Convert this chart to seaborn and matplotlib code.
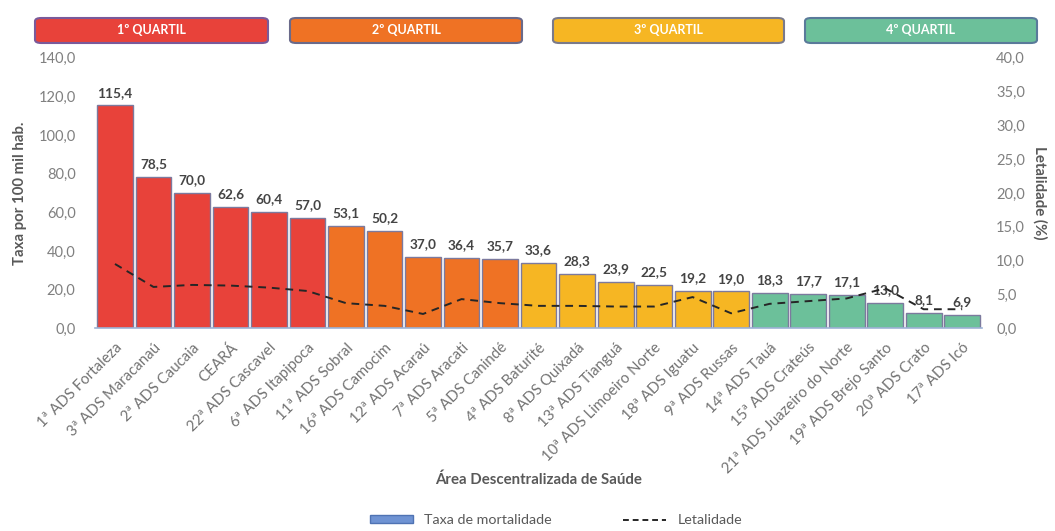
"""
Taxa de mortalidade e letalidade por Área Descentralizada de Saúde.
"""
import seaborn as sns
import pandas as pd
import numpy as np
import matplotlib.pyplot as plt
from matplotlib.patches import Patch, FancyBboxPatch
from matplotlib.lines import Line2D

areas = ["1ª ADS Fortaleza", "3ª ADS Maracanaú", "2ª ADS Caucaia", "CEARÁ",
         "22ª ADS Cascavel", "6ª ADS Itapipoca", "11ª ADS Sobral",
         "16ª ADS Camocim", "12ª ADS Acaraú", "7ª ADS Aracati",
         "5ª ADS Canindé", "4ª ADS Baturité", "8ª ADS Quixadá",
         "13ª ADS Tianguá", "10ª ADS Limoeiro Norte", "18ª ADS Iguatu",
         "9ª ADS Russas", "14ª ADS Tauá", "15ª ADS Crateús",
         "21ª ADS Juazeiro do Norte", "19ª ADS Brejo Santo", "20ª ADS Crato",
         "17ª ADS Icó"]
taxa = [115.4, 78.5, 70.0, 62.6, 60.4, 57.0, 53.1, 50.2, 37.0, 36.4, 35.7,
        33.6, 28.3, 23.9, 22.5, 19.2, 19.0, 18.3, 17.7, 17.1, 13.0, 8.1, 6.9]
letalidade = [9.5, 6.1, 6.4, 6.3, 6.0, 5.5, 3.7, 3.3, 2.1, 4.3, 3.7, 3.3,
              3.3, 3.2, 3.2, 4.6, 2.2, 3.6, 4.0, 4.4, 5.9, 2.8, 2.8]
quartil = ["1º QUARTIL"] * 6 + ["2º QUARTIL"] * 5 + ["3º QUARTIL"] * 6 + ["4º QUARTIL"] * 6
quartis = ["1º QUARTIL", "2º QUARTIL", "3º QUARTIL", "4º QUARTIL"]
cores = ["#E8423A", "#EF7224", "#F6B623", "#6CC09A"]
bordas = ["#7A5A9A", "#6A6A8A", "#7A7A8A", "#5A7A9A"]

df = pd.DataFrame({"area": areas, "taxa": taxa, "letal": letalidade, "quartil": quartil})

sns.set_theme(style="white")
plt.rcParams["font.family"] = ["Lato", "DejaVu Sans"]

fig = plt.figure(figsize=(10.55, 5.31), dpi=100)
ax = fig.add_axes([0.090, 0.382, 0.841, 0.509])

sns.barplot(data=df, x="area", y="taxa", hue="quartil", hue_order=quartis,
            palette=cores, dodge=False, legend=False, width=0.93,
            edgecolor="#7C7A9E", linewidth=1.0, saturation=1, ax=ax)

# Value labels on top of the bars.
for cont in ax.containers:
    for rec in cont:
        h = rec.get_height()
        ax.text(rec.get_x() + rec.get_width() / 2, h + 3.5,
                f"{h:.1f}".replace(".", ","), ha="center", va="bottom",
                fontsize=9.8, fontweight="bold", color="#444444")

ax.set_ylim(0, 140)
ax.set_yticks(np.arange(0, 141, 20))
ax.set_yticklabels([f"{v:.1f}".replace(".", ",") for v in np.arange(0, 141, 20)],
                   color="#808080", fontsize=10.5)
ax.set_xlim(-0.52, len(areas) - 0.48)
ax.set_xticks(range(len(areas)))
ax.set_xticklabels(areas, rotation=45, ha="right", rotation_mode="anchor",
                   color="#737373", fontsize=10.8)
ax.tick_params(axis="x", pad=9, length=0)
ax.tick_params(axis="y", pad=14, length=0)
ax.set_xlabel("Área Descentralizada de Saúde", fontweight="bold",
              color="#595959", fontsize=10.8, labelpad=-3)
ax.set_ylabel("Taxa por 100 mil hab.", fontweight="bold", color="#595959",
              fontsize=10.8, labelpad=8)
for s in ["top", "left", "right"]:
    ax.spines[s].set_visible(False)
ax.spines["bottom"].set_color("#9DB3D6")
ax.spines["bottom"].set_linewidth(1.2)

# Letalidade on secondary axis.
ax2 = ax.twinx()
sns.lineplot(x=np.arange(len(areas)), y=letalidade, ax=ax2, color="#262626",
             linewidth=1.4, linestyle=(0, (4, 3)))
ax2.set_ylim(0, 40)
ax2.set_yticks(np.arange(0, 41, 5))
ax2.set_yticklabels([f"{v:.1f}".replace(".", ",") for v in np.arange(0, 41, 5)],
                    color="#808080", fontsize=10.5)
ax2.tick_params(axis="y", pad=10, length=0)
ax2.set_ylabel("Letalidade (%)", fontweight="bold", color="#595959",
               fontsize=10.8, rotation=270, labelpad=16)
for s in ax2.spines.values():
    s.set_visible(False)

# Quartile header boxes.
caixas = [(35, 268), (290, 522), (553, 784), (805, 1037)]
for (x0, x1), nome, cor, borda in zip(caixas, quartis, cores, bordas):
    fig.patches.append(FancyBboxPatch((x0 / 1055, 1 - 43 / 531),
                                      (x1 - x0) / 1055, 25 / 531,
                                      boxstyle="round,pad=0,rounding_size=0.006",
                                      facecolor=cor, edgecolor=borda,
                                      linewidth=1.5, transform=fig.transFigure))
    fig.text((x0 + x1) / 2 / 1055, 1 - 30.5 / 531, nome, ha="center",
             va="center", color="white", fontweight="bold", fontsize=9)

handles = [Patch(facecolor="#6F93D3", edgecolor="#4F73B3", label="Taxa de mortalidade"),
           Line2D([0], [0], color="#262626", linestyle=(0, (3, 2)), linewidth=1.4,
                  label="Letalidade")]
fig.legend(handles=handles, loc="center", bbox_to_anchor=(0.527, 0.02), ncol=2,
           frameon=False, fontsize=10.3, handlelength=3.0, columnspacing=5,
           handleheight=0.45, labelcolor="#595959")

plt.savefig("out.png", dpi=100)
